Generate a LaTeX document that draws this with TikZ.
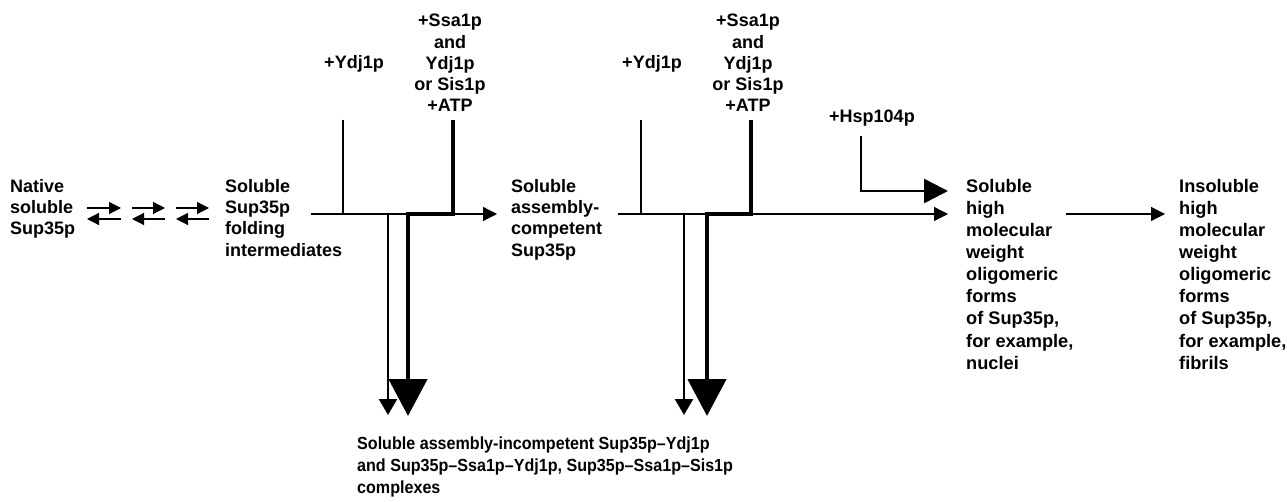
\documentclass[tikz,border=0pt]{standalone}
\usepackage{fontspec}
\setmainfont{Liberation Sans}
\usetikzlibrary{arrows.meta}
\begin{document}
\begin{tikzpicture}[x=1pt,y=-1pt,
  lbl/.style={font=\fontsize{18}{21.3}\selectfont\bfseries, inner sep=0pt, align=left, anchor=north west},
  lblwide/.style={lbl, font=\fontsize{18.2}{22.1}\selectfont\bfseries},
  lblbottom/.style={lbl, font=\fontsize{17.5}{22.3}\selectfont\bfseries},
  toplbl/.style={font=\fontsize{18}{21.25}\selectfont\bfseries, inner sep=0pt, align=center, anchor=north},
  lnthin/.style={line width=1.2pt},
  lnmed/.style={line width=2.4pt, line join=miter},
  lnthick/.style={line width=4.6pt, line join=miter},
  eqtip/.style={-{Triangle[width=12pt,length=12pt]}},
  maintip/.style={-{Triangle[width=14pt,length=14pt]}},
  smalldown/.style={-{Triangle[width=18pt,length=16pt]}},
  bigdown/.style={-{Triangle[width=38pt,length=37pt]}},
  hsptip/.style={-{Triangle[width=24pt,length=24pt]}}
]
\useasboundingbox (0,0) rectangle (1287,502);

% text nodes
\node[lbl] (native) at (10,179.1) {Native\\soluble\\Sup35p};
\node[lbl] (fold) at (225,179.1) {Soluble\\Sup35p\\folding\\intermediates};
\node[lbl] (comp) at (511,179.1) {Soluble\\assembly-\\competent\\Sup35p};
\node[lblwide] (high) at (966,179) {Soluble\\high\\molecular\\weight\\oligomeric\\forms\\of Sup35p,\\for example,\\nuclei};
\node[lblwide] (insol) at (1179,179) {Insoluble\\high\\molecular\\weight\\oligomeric\\forms\\of Sup35p,\\for example,\\fibrils};
\begin{scope}[shift={(357,436.5)}, xscale=0.92]
\node[lblbottom, transform shape] (bottom) at (0,0) {Soluble assembly-incompetent Sup35p--Ydj1p\\and Sup35p--Ssa1p--Ydj1p, Sup35p--Ssa1p--Sis1p\\complexes};
\end{scope}
\node[toplbl] (ydjA) at (354,55.1) {+Ydj1p};
\node[toplbl] (ssaA) at (450,14.1) {+Ssa1p\\and\\Ydj1p\\or Sis1p\\+ATP};
\node[toplbl] (ydjB) at (652,55.1) {+Ydj1p};
\node[toplbl] (ssaB) at (748,14.1) {+Ssa1p\\and\\Ydj1p\\or Sis1p\\+ATP};
\node[lbl] (hsp) at (829,110.1) {+Hsp104p};

% coordinates
\coordinate (e1a) at (87,208);  \coordinate (e1b) at (121,208);
\coordinate (e1c) at (121,219); \coordinate (e1d) at (87,219);
\coordinate (e2a) at (132,208); \coordinate (e2b) at (165,208);
\coordinate (e2c) at (165,219); \coordinate (e2d) at (132,219);
\coordinate (e3a) at (176,208); \coordinate (e3b) at (209,208);
\coordinate (e3c) at (209,219); \coordinate (e3d) at (176,219);

\coordinate (m1s) at (311,214); \coordinate (m1e) at (497,214);
\coordinate (m2s) at (618,214); \coordinate (m2e) at (948,214);
\coordinate (m3s) at (1066,214); \coordinate (m3e) at (1165,214);

\coordinate (yA1) at (343,120); \coordinate (yA2) at (343,214);
\coordinate (yA3) at (388,214); \coordinate (yA4) at (388,415);
\coordinate (aA1) at (453,120); \coordinate (aA2) at (453,214);
\coordinate (aA3) at (408,214); \coordinate (aA4) at (408,416);

\coordinate (yB1) at (641,120); \coordinate (yB2) at (641,214);
\coordinate (yB3) at (684,214); \coordinate (yB4) at (684,415);
\coordinate (aB1) at (751,120); \coordinate (aB2) at (751,214);
\coordinate (aB3) at (707,214); \coordinate (aB4) at (707,416);

\coordinate (h1) at (861,136); \coordinate (h2) at (861,191);
\coordinate (h3) at (948,191);

% equilibrium arrows
\draw[lnthin, eqtip] (e1a) -- (e1b);
\draw[lnthin, eqtip] (e1c) -- (e1d);
\draw[lnthin, eqtip] (e2a) -- (e2b);
\draw[lnthin, eqtip] (e2c) -- (e2d);
\draw[lnthin, eqtip] (e3a) -- (e3b);
\draw[lnthin, eqtip] (e3c) -- (e3d);

% main line
\draw[lnthin, maintip] (m1s) -- (m1e);
\draw[lnthin, maintip] (m2s) -- (m2e);
\draw[lnthin, maintip] (m3s) -- (m3e);

% chaperone branches
\draw[lnmed, smalldown] (yA1) -- (yA2) -- (yA3) -- (yA4);
\draw[lnthick, bigdown] (aA1) -- (aA2) -- (aA3) -- (aA4);
\draw[lnmed, smalldown] (yB1) -- (yB2) -- (yB3) -- (yB4);
\draw[lnthick, bigdown] (aB1) -- (aB2) -- (aB3) -- (aB4);

% Hsp104p
\draw[line width=2.7pt, line join=miter, hsptip] (h1) -- (h2) -- (h3);
\end{tikzpicture}
\end{document}
